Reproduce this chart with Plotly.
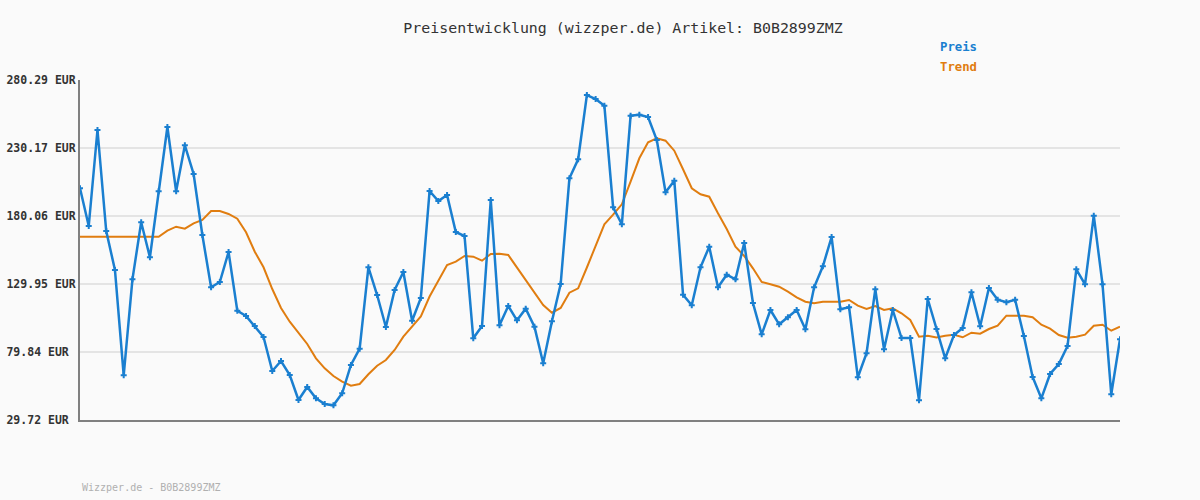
import plotly.graph_objects as go

preis = [200.48, 172.69, 243.44, 169.01, 140.27, 62.66, 133.41, 175.42, 149.63, 198.27,
         245.65, 198.27, 232.17, 211.01, 166.06, 127.52, 131.42, 153.53, 110.27, 106.36,
         99.00, 90.89, 65.83, 73.20, 62.88, 44.46, 54.04, 45.71, 41.51, 40.55,
         49.40, 70.25, 82.27, 142.26, 121.84, 98.26, 125.53, 138.79, 102.90, 119.63,
         198.49, 191.12, 195.54, 168.27, 165.32, 89.93, 99.00, 191.85, 99.51, 113.73,
         103.20, 111.75, 98.48, 71.51, 102.46, 129.95, 207.85, 221.85, 269.24, 266.29,
         261.35, 186.47, 173.95, 253.98, 254.72, 253.02, 236.07, 197.53, 206.08, 122.06,
         114.25, 142.26, 157.44, 127.52, 136.80, 133.41, 160.16, 115.95, 92.88, 110.79,
         100.25, 105.41, 110.79, 96.56, 127.52, 142.99, 164.59, 111.30, 112.78, 61.19,
         78.88, 126.04, 81.82, 110.79, 90.15, 90.15, 44.24, 118.89, 96.78, 75.19,
         92.36, 97.52, 123.83, 98.77, 127.00, 118.38, 116.46, 118.38, 91.63, 61.41,
         45.71, 63.62, 70.99, 84.26, 140.78, 129.73, 180.28, 129.73, 48.66, 89.19]

trend = [164.81, 164.81, 164.81, 164.81, 164.81, 164.81, 164.81, 164.81, 164.81, 164.81,
         169.23, 172.18, 170.70, 174.68, 177.11, 183.75, 183.75, 181.54, 178.07, 168.05,
         153.75, 142.26, 126.26, 112.26, 102.16, 93.62, 85.73, 75.19, 67.82, 62.15,
         57.95, 55.00, 56.25, 63.40, 69.74, 73.94, 81.31, 91.11, 98.48, 106.00,
         120.74, 132.90, 143.95, 146.38, 150.58, 150.07, 147.12, 152.06, 152.28, 151.32,
         142.26, 133.41, 123.54, 114.47, 108.80, 112.26, 123.54, 126.78, 142.11, 158.47,
         173.95, 181.02, 188.68, 205.34, 222.59, 234.38, 237.32, 235.56, 228.19, 214.48,
         200.48, 196.05, 194.29, 182.05, 170.48, 157.44, 150.58, 141.52, 131.42, 129.73,
         127.96, 124.27, 120.15, 116.90, 115.72, 116.90, 116.90, 116.90, 118.16, 113.96,
         111.52, 113.73, 110.79, 112.04, 108.36, 103.42, 91.11, 91.85, 90.52, 91.85,
         92.58, 90.67, 94.06, 93.32, 96.78, 99.22, 106.59, 106.59, 106.59, 105.41,
         99.95, 97.01, 92.36, 90.37, 91.11, 92.58, 99.22, 99.95, 95.53, 98.48]

tick_vals = [29.72, 79.84, 129.95, 180.06, 230.17, 280.29]
tick_text = ["29.72 EUR\u00a0", "79.84 EUR\u00a0", "129.95 EUR", "180.06 EUR", "230.17 EUR", "280.29 EUR"]

x = list(range(len(preis)))

BLUE = "#1a7fd0"
ORANGE = "#e07d10"
MONO = "DejaVu Sans Mono"

W, H = 1200, 500
L, R, T, B = 80, 80, 80, 80


def px_x(px):
    return (px - L) / (W - L - R)


def px_y(py):
    return (H - B - py) / (H - T - B)


fig = go.Figure()
fig.add_trace(go.Scatter(x=x, y=trend, mode="lines", line=dict(color=ORANGE, width=2),
                         showlegend=False, hoverinfo="skip"))
fig.add_trace(go.Scatter(x=x, y=preis, mode="lines+markers",
                         line=dict(color=BLUE, width=2.5),
                         marker=dict(symbol="cross", size=5, color=BLUE),
                         showlegend=False))

fig.update_layout(
    width=W, height=H,
    margin=dict(l=L, r=R, t=T, b=B, autoexpand=False),
    paper_bgcolor="#fafafa", plot_bgcolor="#fafafa",
    font=dict(family=MONO, color="#333333"),
    title=dict(text="Preisentwicklung (wizzper.de) Artikel: B0B2899ZMZ",
               x=623/W, xanchor="center", y=1-28/H, yanchor="middle",
               font=dict(family=MONO, size=14.9, color="#333333")),
)
fig.update_xaxes(range=[0, len(preis) - 1], showgrid=False, zeroline=False,
                 showticklabels=False, ticks="", showline=True,
                 linecolor="#808080", linewidth=2, automargin=False)
fig.update_yaxes(range=[tick_vals[0], tick_vals[-1]], tickvals=tick_vals, ticktext=tick_text,
                 showgrid=True, gridcolor="#e4e4e4", gridwidth=2, zeroline=False,
                 showline=True, linecolor="#808080", linewidth=2, ticks="",
                 ticklabelstandoff=0, automargin=False,
                 tickfont=dict(family=MONO, size=11.5, color="#333333", weight="bold"))

fig.add_annotation(text="Preis", x=px_x(938), y=px_y(47), xref="paper", yref="paper",
                   xanchor="left", yanchor="middle", showarrow=False,
                   font=dict(family=MONO, size=12.3, color=BLUE, weight="bold"))
fig.add_annotation(text="Trend", x=px_x(938), y=px_y(67), xref="paper", yref="paper",
                   xanchor="left", yanchor="middle", showarrow=False,
                   font=dict(family=MONO, size=12.3, color=ORANGE, weight="bold"))
fig.add_annotation(text="Wizzper.de - B0B2899ZMZ", x=px_x(80), y=px_y(487),
                   xref="paper", yref="paper", xanchor="left", yanchor="middle",
                   showarrow=False, font=dict(family=MONO, size=10, color="#b0b0b0"))

fig.write_html("out.html", config={"displayModeBar": False},
               post_script="document.body.style.margin='0';")
